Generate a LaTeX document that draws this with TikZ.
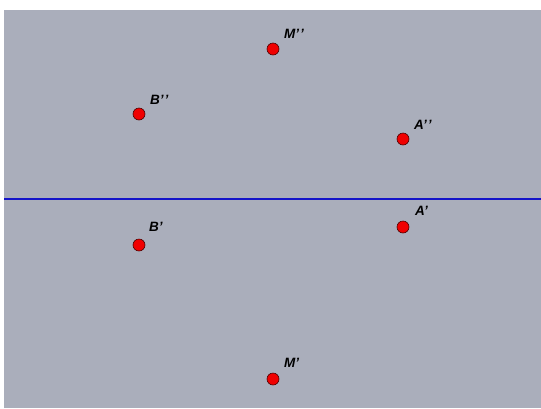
\documentclass[tikz,border=0pt]{standalone}
\usepackage{fontspec}
\setmainfont{Liberation Sans}
\definecolor{bggray}{RGB}{170,174,187}
\definecolor{linebl}{RGB}{20,20,200}
\definecolor{ptred}{RGB}{240,0,0}
\newcommand{\pp}{’\kern1pt’}
\begin{document}
\begin{tikzpicture}[x=1pt,y=-1pt,
  pt/.style={circle,fill=ptred,draw=black!70!red,line width=0.6pt,minimum size=12pt,inner sep=0pt},
  lbl/.style={anchor=base west,inner sep=0pt,font=\fontsize{13.5}{13.5}\selectfont\bfseries\itshape}]
\useasboundingbox (0,0) rectangle (541,408);
\fill[white] (0,0) rectangle (541,408);
\fill[bggray] (4,10) rectangle (541,408);
\coordinate (L1) at (4,199);
\coordinate (L2) at (541,199);
\draw[linebl,line width=1.3pt] (L1) -- (L2);
\node[pt] (Mpp) at (273,49) {};
\node[pt] (Bpp) at (139,114) {};
\node[pt] (App) at (403,139) {};
\node[pt] (Ap) at (403,227) {};
\node[pt] (Bp) at (139,245) {};
\node[pt] (Mp) at (273,379) {};
\node[lbl] (lMpp) at (284,38) {M\pp};
\node[lbl] (lBpp) at (150,104) {B\pp};
\node[lbl] (lApp) at (414,129) {A\pp};
\node[lbl] (lAp) at (415,215) {A’};
\node[lbl] (lBp) at (149,231) {B’};
\node[lbl] (lMp) at (284,367) {M’};
\end{tikzpicture}
\end{document}
